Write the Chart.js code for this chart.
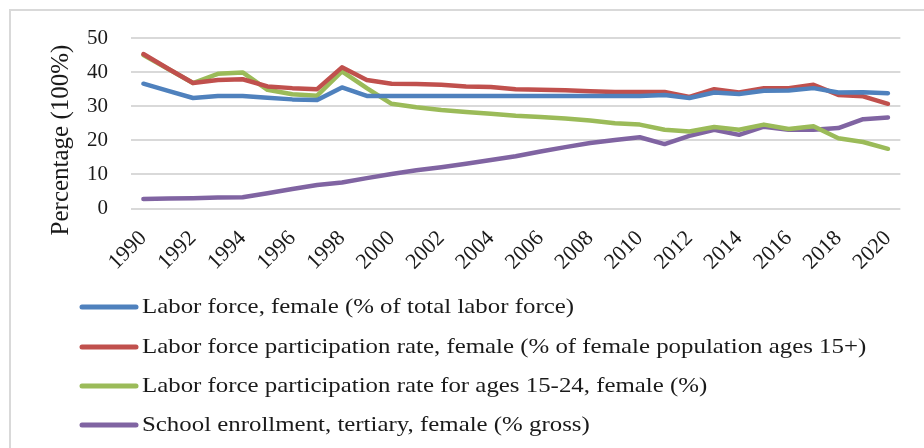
<!DOCTYPE html>
<html>
<head>
<meta charset="utf-8">
<script src="https://cdn.jsdelivr.net/npm/chart.js@4.4.1/dist/chart.umd.min.js"></script>
<style>
  html, body { margin: 0; padding: 0; background: #ffffff; }
  body { width: 924px; height: 448px; position: relative; overflow: hidden; }
  #frame { position: absolute; left: 9px; top: 9px; width: 940px; height: 460px; border-top: 2px solid #d9d9d9; border-left: 2px solid #d9d9d9; }
  #chart { position: absolute; left: 0; top: 0; }
</style>
</head>
<body>
<div id="frame"></div>
<canvas id="chart" width="924" height="448" style="width:924px;height:448px"></canvas>
<script>
// ---- data ----
const years = ['1990','1991','1992','1993','1994','1995','1996','1997','1998','1999',
               '2000','2001','2002','2003','2004','2005','2006','2007','2008','2009',
               '2010','2011','2012','2013','2014','2015','2016','2017','2018','2019','2020'];

const laborForceFemale = [36.6,34.5,32.4,33.0,33.0,32.5,32.0,31.8,35.5,33.0,
                          33.0,33.0,33.0,33.0,33.0,33.0,33.0,33.0,33.0,33.0,
                          33.0,33.3,32.4,34.0,33.6,34.5,34.6,35.3,34.0,34.1,33.8];

const participationFemale = [45.3,41.0,36.8,37.7,37.9,35.8,35.3,35.0,41.4,37.7,
                             36.6,36.5,36.3,35.8,35.6,35.0,34.8,34.7,34.4,34.2,
                             34.2,34.2,32.7,35.0,34.0,35.3,35.3,36.3,33.3,32.9,30.7];

const participationYouth = [45.0,40.9,36.8,39.5,39.9,34.8,33.5,33.1,40.2,35.3,
                            30.7,29.7,28.9,28.3,27.8,27.2,26.8,26.4,25.8,25.0,
                            24.6,23.1,22.6,23.9,23.1,24.6,23.3,24.1,20.6,19.5,17.5];

const tertiaryEnrollment = [2.8,2.9,3.0,3.2,3.3,4.5,5.7,6.9,7.6,8.9,
                            10.1,11.2,12.1,13.1,14.2,15.3,16.7,18.0,19.2,20.1,
                            20.9,18.9,21.3,23.1,21.6,24.0,23.1,23.1,23.6,26.2,26.7];

const seriesLabels = [
  'Labor force, female (% of total labor force)',
  'Labor force participation rate, female (% of female population ages 15+)',
  'Labor force participation rate for ages 15-24, female (%)',
  'School enrollment, tertiary, female (% gross)'
];
const seriesColors = ['#4f81bd', '#c0504d', '#9bbb59', '#8064a2'];
const yTicks = [0, 10, 20, 30, 40, 50];
const yTitle = 'Percentage (100%)';

// ---- chart ----
const seriesValues = [laborForceFemale, participationFemale, participationYouth, tertiaryEnrollment];
const datasets = seriesValues.map((vals, i) => ({
  label: seriesLabels[i],
  data: vals,
  borderColor: seriesColors[i],
  backgroundColor: seriesColors[i],
  borderWidth: 4.5,
  pointRadius: 0,
  tension: 0,
  fill: false,
  borderCapStyle: 'round',
  borderJoinStyle: 'round'
}));

const textColor = '#1a1a1a';
const serif = "'Liberation Serif', 'Times New Roman', serif";

const yTitlePlugin = {
  id: 'yTitleText',
  afterDraw(chart) {
    const ctx = chart.ctx;
    ctx.save();
    ctx.translate(61, 140);
    ctx.rotate(-Math.PI / 2);
    ctx.font = '25px ' + serif;
    ctx.fillStyle = textColor;
    ctx.textAlign = 'center';
    ctx.textBaseline = 'middle';
    ctx.fillText(yTitle, 0, 0);
    ctx.restore();
  }
};

// legend drawn on the canvas from the dataset labels/colours
const legendPlugin = {
  id: 'stackedLegend',
  afterDraw(chart) {
    const ctx = chart.ctx;
    const rowY = [307, 347, 386, 425];
    chart.data.datasets.forEach((ds, i) => {
      const y = rowY[i];
      ctx.save();
      ctx.strokeStyle = ds.borderColor;
      ctx.lineWidth = 5;
      ctx.lineCap = 'round';
      ctx.beginPath();
      ctx.moveTo(82, y);
      ctx.lineTo(136, y);
      ctx.stroke();
      ctx.translate(142, y);
      ctx.scale(1.13, 1);
      ctx.font = '22px ' + serif;
      ctx.fillStyle = textColor;
      ctx.textAlign = 'left';
      ctx.textBaseline = 'middle';
      ctx.fillText(ds.label, 0, 0);
      ctx.restore();
    });
  }
};

new Chart(document.getElementById('chart'), {
  type: 'line',
  data: { labels: years, datasets },
  options: {
    responsive: false,
    animation: false,
    layout: { padding: { top: 38, right: 23, bottom: 158, left: 0 } },
    plugins: { legend: { display: false }, tooltip: { enabled: false } },
    scales: {
      x: {
        type: 'category',
        offset: true,
        grid: { display: false, drawTicks: false },
        border: { display: false },
        ticks: {
          autoSkip: false,
          minRotation: 45,
          maxRotation: 45,
          padding: 17,
          labelOffset: 0,
          color: textColor,
          font: { family: serif, size: 22 },
          callback: function (v, i) { return i % 2 === 0 ? years[i] : ''; }
        },
        afterFit(scale) { scale.height = 81.5; }
      },
      y: {
        min: 0,
        max: 50,
        afterBuildTicks(scale) { scale.ticks = yTicks.map(v => ({ value: v })); },
        grid: { color: '#d9d9d9', lineWidth: 2, drawTicks: false },
        border: { display: false },
        ticks: {
          padding: 23,
          color: textColor,
          font: { family: serif, size: 21 }
        },
        afterFit(scale) { scale.width = 131; }
      }
    }
  },
  plugins: [yTitlePlugin, legendPlugin]
});
</script>
</body>
</html>
